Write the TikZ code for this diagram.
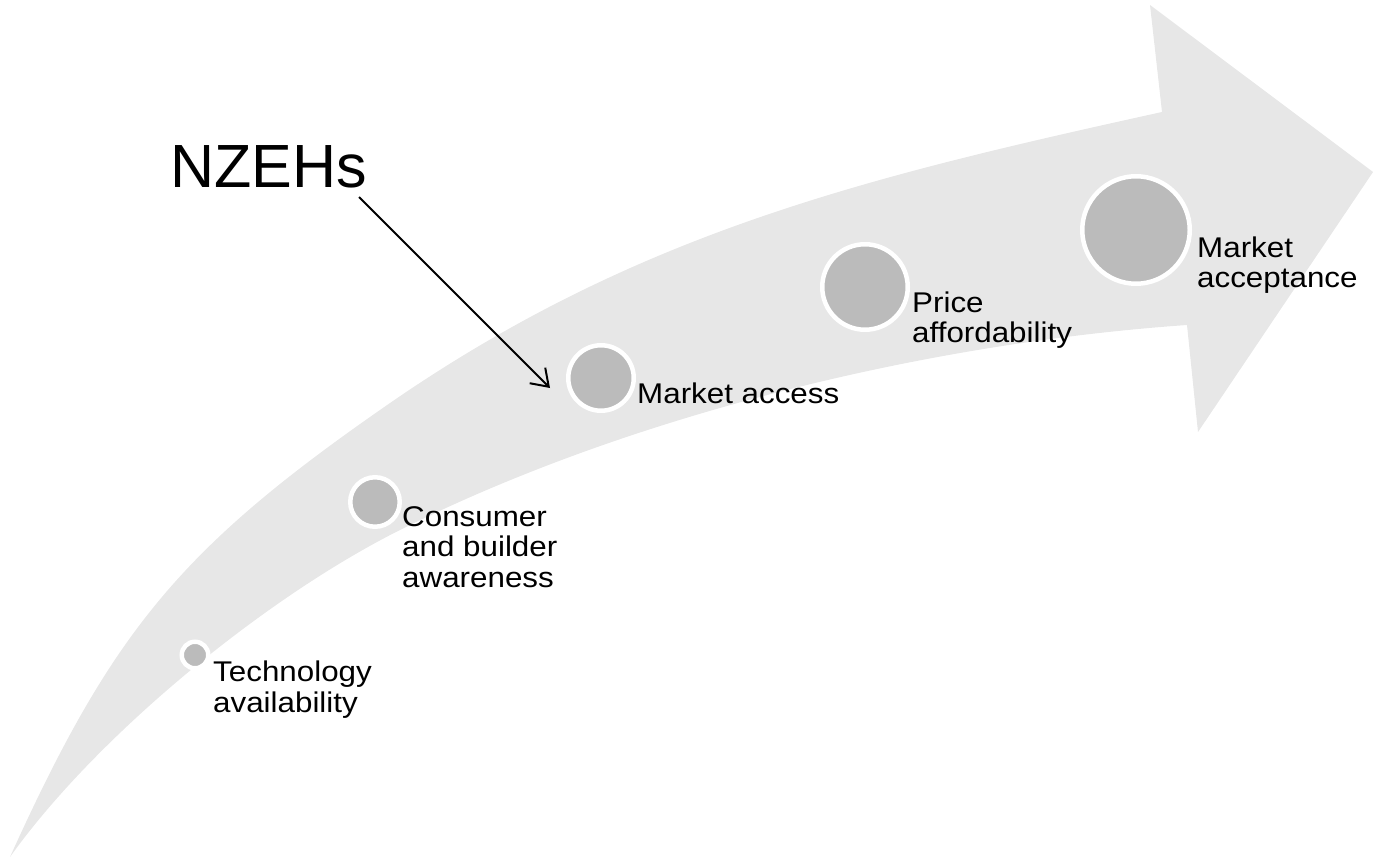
\documentclass[tikz,border=0pt]{standalone}
\usepackage{fontspec}
\setmainfont{Liberation Sans}
\newfontfamily\labfont[FakeStretch=1.1]{Liberation Sans}
\usetikzlibrary{arrows.meta}
\definecolor{arrowgray}{HTML}{E7E7E7}
\definecolor{dotgray}{HTML}{BBBBBB}
\tikzset{
  dot/.style={circle, fill=dotgray, draw=white, line width=4.5pt, inner sep=0pt, minimum size=#1},
  lab/.style={anchor=base west, inner sep=0pt, align=left, font=\labfont\fontsize{28.5}{30.5}\selectfont},
  bigtitle/.style={anchor=base west, inner sep=0pt, font=\fontsize{61}{66}\selectfont},
  pointer/.style={line width=2pt, -{Straight Barb[length=16pt,width=22pt]}}
}
\begin{document}
\begin{tikzpicture}[x=1pt,y=-1pt]
\useasboundingbox (0,0) rectangle (1373,858);
% big curved arrow
\fill[arrowgray] (10,857)
  .. controls (111,634) and (179,550) .. (380,410)
  .. controls (631,234) and (862,178) .. (1162,112)
  -- (1150,5) -- (1373,172) -- (1198,432) -- (1187,325)
  .. controls (929,343) and (632,414) .. (400,530)
  .. controls (266,597) and (97,735) .. (10,857)
  -- cycle;
% milestones
\node[dot=26.5pt] (c1) at (195,655) {};
\node[dot=49.5pt] (c2) at (375,502) {};
\node[dot=65.5pt] (c3) at (601,378) {};
\node[dot=85.5pt] (c4) at (865,287) {};
\node[dot=107.5pt] (c5) at (1136,230) {};
\node[lab] (l1) at (213,712) {Technology\\availability};
\node[lab] (l2) at (402,587) {Consumer\\and builder\\awareness};
\node[lab] (l3) at (637,403) {Market access};
\node[lab] (l4) at (912,343) {Price\\affordability};
\node[lab] (l5) at (1197,288) {Market\\acceptance};
% title and pointer
\node[bigtitle] (nz) at (170,188) {NZEHs};
\coordinate (nzs) at (359,197);
\coordinate (nzt) at (550,388);
\draw[pointer] (nzs) -- (nzt);
\end{tikzpicture}
\end{document}
